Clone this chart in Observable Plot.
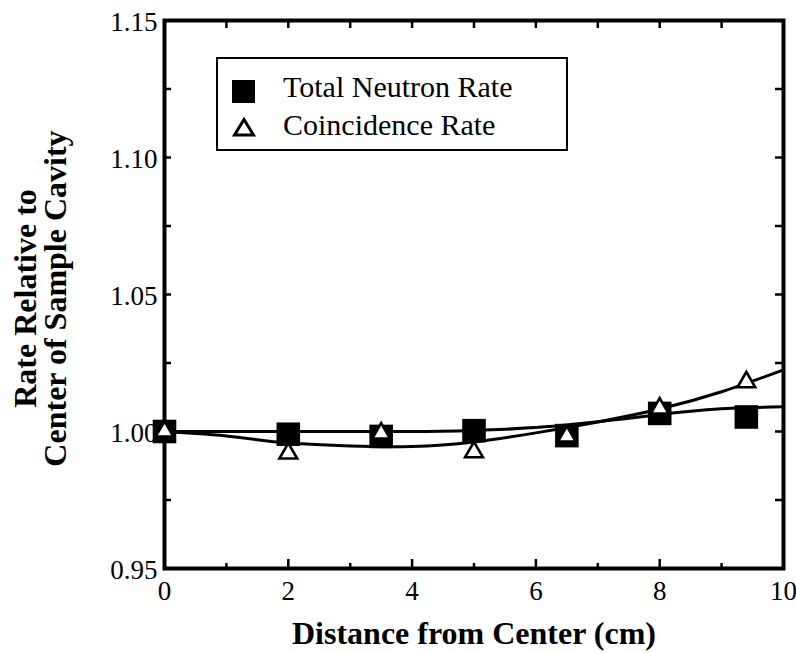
<!DOCTYPE html>
<html><head><meta charset="utf-8">
<script src="https://cdn.jsdelivr.net/npm/d3@7"></script>
<script src="https://cdn.jsdelivr.net/npm/@observablehq/plot@0.6"></script>
<style>
body{margin:0;background:#fff;}
#wrap{position:relative;width:796px;height:653px;}
#wrap svg text{font-family:"Liberation Serif","DejaVu Serif" !important;}
#legend{position:absolute;left:216px;top:57px;width:352px;height:94px;border:2px solid #000;box-sizing:border-box;background:#fff;font-family:"Liberation Serif","DejaVu Serif";font-size:30px;color:#000;}
#legend .sw{position:absolute;}
#legend .lb{position:absolute;left:65px;line-height:30px;white-space:nowrap;}
</style>
</head><body><div id="wrap"></div>
<script>
// measured points
const distance   = [0, 2, 3.5, 5, 6.5, 8, 9.4];
const totalRate  = [1.0000, 0.9990, 0.9982, 1.0003, 0.9985, 1.0066, 1.0053];
const coincRate  = [1.0000, 0.9920, 0.9993, 0.9925, 0.9982, 1.0084, 1.0180];
// fitted curves
const fitX       = [0, 1, 2, 3, 4, 5, 5.5, 6, 6.5, 7, 7.5, 8, 8.5, 9, 9.5, 10];
const totalFit   = [1.0000, 1.0000, 1.0000, 1.0000, 1.0000, 1.0004, 1.0008, 1.0015, 1.0024, 1.0036, 1.0048, 1.0062, 1.0074, 1.0083, 1.0088, 1.0090];
const fitX2      = [0, 0.5, 1, 1.5, 2, 3, 4, 5, 6, 7, 8, 9, 10];
const coincFit   = [1.0000, 0.9993, 0.9984, 0.9970, 0.9958, 0.9947, 0.9945, 0.9962, 0.9995, 1.0035, 1.0082, 1.0145, 1.0225];
// ticks
const xLabels    = [0, 2, 4, 6, 8, 10];
const xMajor     = [2, 4, 6, 8];
const xMinor     = [1, 3, 5, 7, 9];
const yLabels    = [0.95, 1.00, 1.05, 1.10, 1.15];
const yTicks     = [0.975, 1.0, 1.025, 1.05, 1.075, 1.10, 1.125];
const legendItems = ["Total Neutron Rate", "Coincidence Rate"];

const W = 796, H = 653, mt = 20, mr = 13, mb = 85, ml = 164;
const innerH = H - mt - mb, innerW = W - ml - mr;

const pts = distance.map((d, i) => ({x: d, t: totalRate[i], c: coincRate[i]}));
const tf = fitX.map((d, i) => ({x: d, y: totalFit[i]}));
const cf = fitX2.map((d, i) => ({x: d, y: coincFit[i]}));

const font = '"Liberation Serif", "DejaVu Serif"';

const chart = Plot.plot({
  width: W, height: H,
  marginTop: mt, marginRight: mr, marginBottom: mb, marginLeft: ml,
  style: {fontFamily: font, fontSize: "27px", color: "#000", background: "#fff"},
  x: {domain: [0, 10]},
  y: {domain: [0.95, 1.15]},
  marks: [
    Plot.axisX({ticks: xLabels, tickSize: 0, tickPadding: 12, label: null, fontSize: 27}),
    Plot.axisY({ticks: yLabels, tickSize: 0, tickPadding: 7, dy: 2, label: null, fontSize: 27, tickFormat: d3.format(".2f")}),
    // inward ticks
    Plot.tickX(xMajor, {x: d => d, insetTop: innerH - 9, strokeWidth: 2.5}),
    Plot.tickX(xMinor, {x: d => d, insetTop: innerH - 5, strokeWidth: 2.5}),
    Plot.tickX(xMajor.concat(xMinor), {x: d => d, insetBottom: innerH - 8, strokeWidth: 2.5}),
    Plot.tickY(yTicks, {y: d => d, insetRight: innerW - 7, strokeWidth: 2.5}),
    Plot.tickY(yTicks, {y: d => d, insetLeft: innerW - 8, strokeWidth: 2.5}),
    Plot.frame({stroke: "#000", strokeWidth: 4}),
    Plot.line(tf, {x: "x", y: "y", curve: "natural", stroke: "#000", strokeWidth: 3}),
    Plot.line(cf, {x: "x", y: "y", curve: "natural", stroke: "#000", strokeWidth: 3}),
    Plot.dot(pts, {x: "x", y: "t", symbol: "square", r: 13.3, fill: "#000", stroke: "none"}),
    Plot.dot(pts, {x: "x", y: "c", symbol: "triangle", r: 6.6, fill: "#fff", stroke: "#000", strokeWidth: 2.6}),
    Plot.text(["Distance from Center (cm)"], {frameAnchor: "bottom", dy: 65, textAnchor: "middle", lineAnchor: "middle", text: d => d, fontWeight: "bold", fontSize: 32, fill: "#000"}),
    Plot.text(["Rate Relative to\nCenter of Sample Cavity"], {frameAnchor: "left", dx: -123, dy: 4, rotate: -90, textAnchor: "middle", lineAnchor: "middle", lineHeight: 0.94, text: d => d, fontWeight: "bold", fontSize: 32, fill: "#000"})
  ]
});

const wrap = document.getElementById("wrap");
wrap.appendChild(chart);

const lg = document.createElement("div");
lg.id = "legend";
lg.innerHTML =
  `<div class="sw" style="left:14px;top:21px;width:23px;height:23px;background:#000"></div>` +
  `<svg class="sw" style="left:14px;top:58px" width="24" height="20"><polygon points="12,2.5 21.5,18 2.5,18" fill="#fff" stroke="#000" stroke-width="3"/></svg>` +
  `<div class="lb" style="top:13px">${legendItems[0]}</div>` +
  `<div class="lb" style="top:51px">${legendItems[1]}</div>`;
wrap.appendChild(lg);
</script>
</body></html>
